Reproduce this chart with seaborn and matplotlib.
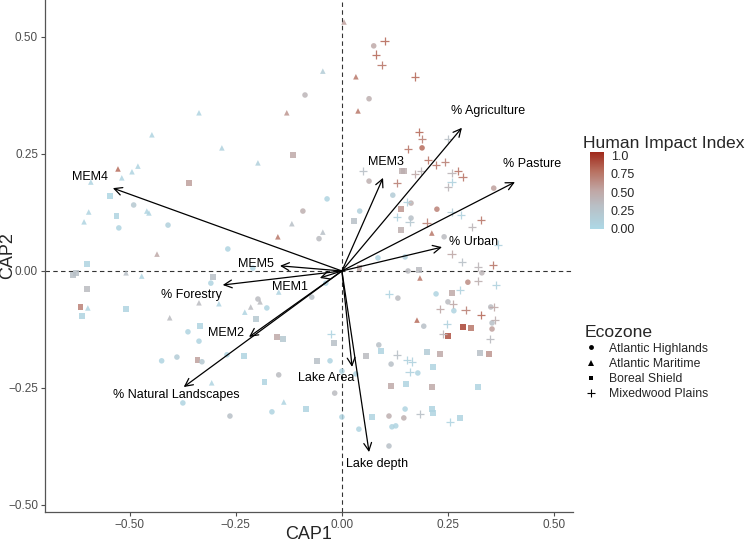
import numpy as np
import pandas as pd
import matplotlib
matplotlib.use("Agg")
import matplotlib.pyplot as plt
import seaborn as sns
from matplotlib.colors import LinearSegmentedColormap, Normalize
from matplotlib.lines import Line2D
from matplotlib.ticker import FuncFormatter

# site scores (CAP1, CAP2), ecozone and human impact index
cap1 = [-0.337, -0.448, -0.283, -0.528, -0.481, -0.495, -0.519, -0.592, -0.361, -0.547,
        -0.491, -0.46, -0.455, -0.597, -0.608, -0.531, -0.526, -0.41, -0.436,
        0.005, -0.045, -0.087, -0.13, -0.198, -0.115, -0.035, -0.092, -0.118, -0.151,
        -0.045, -0.054, -0.269, 0.101, 0.075, 0.08, 0.094, 0.033, 0.064, 0.038, 0.172,
        0.05, 0.064, 0.13, 0.12, 0.042, 0.028, 0.13,
        0.182, 0.189, 0.156, 0.189, 0.25, 0.203, 0.222, 0.243, 0.142, 0.146, 0.172,
        0.186, 0.259, 0.274, 0.285, 0.259, 0.25, 0.358, 0.163, 0.224, 0.139, 0.153,
        0.163, 0.16, 0.259, 0.281, 0.2, 0.139, 0.212, 0.241, 0.307, 0.328, 0.368,
        0.259, 0.149, 0.085, 0.042, 0.283, 0.321, 0.356, 0.33,
        -0.601, -0.634, -0.627, -0.509, -0.472, -0.601, -0.616, -0.599, -0.613, -0.509,
        -0.406, -0.304, -0.309, -0.337, -0.29, -0.335, -0.363, -0.337, -0.425, -0.389,
        -0.34, -0.33, -0.307, -0.375,
        -0.149, -0.071, -0.038, -0.198, -0.193, -0.215, -0.177, -0.229, -0.203, -0.153,
        -0.139, -0.026, -0.019, -0.231, -0.059, -0.028, -0.149, -0.182, -0.017, -0.137,
        -0.165, -0.085, -0.264, 0.0, 0.0, 0.033, 0.111, 0.132, 0.087, 0.057, 0.092,
        0.13, 0.116, 0.116, 0.071, 0.04, 0.111, 0.118, 0.127, 0.111,
        0.156, 0.182, 0.184, 0.297, 0.321, 0.363, 0.222, 0.259, 0.278, 0.25, 0.262,
        0.231, 0.264, 0.292, 0.351, 0.358, 0.328, 0.177, 0.193, 0.248, 0.285, 0.304,
        0.25, 0.238, 0.354, 0.361, 0.354, 0.349, 0.2, 0.231, 0.325, 0.347, 0.153,
        0.165, 0.16, 0.179, 0.215, 0.151, 0.212, 0.321, 0.149, 0.212, 0.215, 0.184,
        0.146, 0.278, 0.255, -0.271, -0.21]
cap2 = [0.338, 0.291, 0.263, 0.218, 0.224, 0.212, 0.199, 0.19, 0.188, 0.16,
        0.141, 0.128, 0.124, 0.126, 0.105, 0.118, 0.092, 0.098, 0.036,
        0.532, 0.427, 0.376, 0.338, 0.231, 0.248, 0.154, 0.128, 0.101, 0.073,
        0.083, 0.069, 0.047, 0.491, 0.481, 0.462, 0.44, 0.415, 0.368, 0.342, 0.415,
        0.214, 0.192, 0.188, 0.162, 0.128, 0.107, 0.115,
        0.297, 0.282, 0.261, 0.263, 0.282, 0.237, 0.226, 0.233, 0.214, 0.214, 0.207,
        0.214, 0.209, 0.214, 0.201, 0.19, 0.179, 0.177, 0.145, 0.132, 0.132, 0.147,
        0.113, 0.105, 0.126, 0.12, 0.103, 0.088, 0.081, 0.073, 0.094, 0.109, 0.056,
        0.036, 0.03, 0.028, 0.006, 0.019, 0.009, 0.013, -0.004,
        0.015, -0.009, -0.004, -0.004, -0.011, -0.038, -0.077, -0.079, -0.096, -0.081,
        -0.1, -0.013, -0.026, -0.068, -0.07, -0.118, -0.13, -0.15, -0.192, -0.184,
        -0.19, -0.194, -0.239, -0.282,
        -0.045, -0.056, -0.026, -0.06, -0.066, -0.077, -0.079, -0.088, -0.103, -0.141,
        -0.145, -0.135, -0.154, -0.182, -0.192, -0.192, -0.222, -0.237, -0.261, -0.28,
        -0.301, -0.295, -0.31, -0.312, -0.214, -0.22, -0.049, -0.058, -0.158, -0.182,
        -0.171, -0.179, -0.199, -0.246, -0.312, -0.338, -0.31, -0.333, -0.331, -0.374,
        0.0, 0.002, -0.015, -0.024, -0.021, -0.03, -0.049, -0.047, -0.041, -0.066,
        -0.071, -0.081, -0.085, -0.083, -0.077, -0.077, -0.094, -0.105, -0.118, -0.113,
        -0.12, -0.122, -0.139, -0.135, -0.111, -0.105, -0.124, -0.145, -0.173, -0.177,
        -0.175, -0.177, -0.19, -0.194, -0.216, -0.218, -0.205, -0.241, -0.248, -0.248,
        -0.295, -0.295, -0.303, -0.306, -0.314, -0.314, -0.323, -0.179, 0.006]
zone = ["AM", "AM", "AM", "AM", "AM", "AM", "AM", "AM", "BS", "BS",
        "AH", "AM", "AM", "AM", "AM", "BS", "AH", "AH", "AM",
        "AM", "AM", "AH", "AM", "AM", "BS", "AH", "AH", "AM", "AM",
        "AM", "AH", "AH", "MP", "AH", "MP", "MP", "AM", "AH", "AM", "MP",
        "MP", "AH", "MP", "AH", "AH", "BS", "MP",
        "MP", "MP", "MP", "AH", "MP", "MP", "MP", "MP", "BS", "BS", "MP",
        "MP", "MP", "MP", "MP", "MP", "MP", "AH", "AH", "AH", "BS", "MP",
        "AH", "MP", "MP", "MP", "MP", "BS", "AM", "AH", "MP", "MP", "MP",
        "MP", "AH", "AH", "BS", "MP", "MP", "MP", "AH",
        "BS", "BS", "BS", "AM", "AM", "BS", "BS", "AM", "BS", "BS",
        "AM", "BS", "AH", "AM", "AM", "BS", "AH", "AH", "AH", "AH",
        "BS", "AH", "AM", "AH",
        "AM", "AH", "AH", "AH", "AM", "AM", "AH", "AM", "BS", "BS",
        "BS", "MP", "BS", "BS", "BS", "AH", "AH", "BS", "AH", "AM",
        "AH", "BS", "AH", "AH", "AH", "AH", "MP", "AH", "AH", "BS", "BS",
        "MP", "AH", "BS", "BS", "AH", "AH", "AH", "AH", "AH",
        "AH", "BS", "AM", "AH", "MP", "MP", "AH", "BS", "MP", "AH", "MP",
        "MP", "AH", "MP", "AH", "MP", "MP", "AM", "AH", "MP", "BS", "BS",
        "BS", "MP", "AH", "MP", "AH", "MP", "BS", "BS", "BS", "BS", "MP",
        "MP", "MP", "AH", "BS", "BS", "BS", "BS", "AH", "BS", "BS", "MP",
        "AH", "BS", "MP", "AH", "AH"]
impact = [0.05, 0.05, 0.08, 0.8, 0.05, 0.05, 0.05, 0.05, 0.55, 0.03,
          0.2, 0.05, 0.05, 0.05, 0.05, 0.05, 0.05, 0.1, 0.5,
          0.55, 0.15, 0.4, 0.6, 0.1, 0.5, 0.05, 0.45, 0.3, 0.75,
          0.3, 0.35, 0.05, 0.8, 0.5, 0.8, 0.75, 0.75, 0.45, 0.75, 0.8,
          0.3, 0.45, 0.7, 0.15, 0.1, 0.3, 0.08,
          0.8, 0.7, 0.75, 0.8, 0.3, 0.75, 0.75, 0.7, 0.45, 0.45, 0.5,
          0.4, 0.4, 0.75, 0.75, 0.08, 0.4, 0.55, 0.45, 0.7, 0.6, 0.08,
          0.3, 0.2, 0.15, 0.08, 0.7, 0.45, 0.75, 0.35, 0.4, 0.75, 0.08,
          0.5, 0.1, 0.05, 0.5, 0.3, 0.4, 0.75, 0.4,
          0.05, 0.3, 0.3, 0.3, 0.05, 0.35, 0.7, 0.05, 0.05, 0.05,
          0.35, 0.3, 0.05, 0.35, 0.05, 0.05, 0.05, 0.05, 0.05, 0.15,
          0.55, 0.2, 0.05, 0.05,
          0.05, 0.3, 0.05, 0.35, 0.35, 0.35, 0.05, 0.05, 0.2, 0.5,
          0.2, 0.05, 0.3, 0.05, 0.3, 0.05, 0.35, 0.05, 0.35, 0.05,
          0.05, 0.05, 0.3, 0.05, 0.05, 0.05, 0.05, 0.35, 0.3, 0.35, 0.05,
          0.3, 0.3, 0.5, 0.05, 0.05, 0.45, 0.05, 0.05, 0.3,
          0.35, 0.35, 0.75, 0.65, 0.45, 0.08, 0.05, 0.5, 0.08, 0.35, 0.5,
          0.5, 0.05, 0.7, 0.35, 0.5, 0.8, 0.8, 0.3, 0.08, 0.95, 0.75,
          0.9, 0.4, 0.3, 0.45, 0.55, 0.35, 0.15, 0.5, 0.3, 0.6, 0.08,
          0.08, 0.08, 0.05, 0.05, 0.05, 0.5, 0.05, 0.05, 0.05, 0.05, 0.3,
          0.45, 0.05, 0.05, 0.05, 0.05]

zone_names = {"AH": "Atlantic Highlands", "AM": "Atlantic Maritime",
              "BS": "Boreal Shield", "MP": "Mixedwood Plains"}

# environmental vectors (arrow tips) and label positions
vec_names = ["% Agriculture", "% Pasture", "% Urban", "MEM3", "MEM4", "MEM5",
             "% Forestry", "MEM1", "MEM2", "% Natural Landscapes", "Lake Area", "Lake depth"]
vec_x = [0.283, 0.408, 0.236, 0.097, -0.54, -0.146, -0.281, -0.052, -0.219, -0.373, 0.024, 0.064]
vec_y = [0.306, 0.19, 0.051, 0.199, 0.177, 0.011, -0.030, -0.015, -0.141, -0.248, -0.205, -0.387]
lab_x = [0.344, 0.448, 0.31, 0.104, -0.594, -0.203, -0.354, -0.123, -0.274, -0.39, -0.036, 0.082]
lab_y = [0.342, 0.229, 0.062, 0.233, 0.20, 0.015, -0.051, -0.034, -0.132, -0.265, -0.229, -0.412]

df = pd.DataFrame({"CAP1": cap1, "CAP2": cap2, "zone": zone, "impact": impact})
df["Ecozone"] = df["zone"].map(zone_names)

sns.set_style("white")
plt.rcParams["font.family"] = ["Liberation Sans", "DejaVu Sans"]

cmap = LinearSegmentedColormap.from_list(
    "hii", [(0, "#ADD8E6"), (0.3, "#B9BFC5"), (0.5, "#C0A6A4"),
            (0.75, "#B87060"), (1.0, "#A0281A")])
norm = Normalize(vmin=0, vmax=1.05)

fig = plt.figure(figsize=(7.48, 5.46), dpi=100)
ax = fig.add_axes([0.0602, 0.0623, 0.7059, 0.9377])

filled = df[df["zone"] != "MP"]
sns.scatterplot(data=filled, x="CAP1", y="CAP2", hue="impact", style="Ecozone",
                markers={"Atlantic Highlands": "o", "Atlantic Maritime": "^",
                         "Boreal Shield": "s"},
                palette=cmap, hue_norm=norm, s=16, linewidth=0, alpha=0.85,
                legend=False, ax=ax, zorder=2)
plus = df[df["zone"] == "MP"]
sns.scatterplot(data=plus, x="CAP1", y="CAP2", hue="impact", marker="+",
                palette=cmap, hue_norm=norm, s=38, linewidth=0.9, alpha=0.9,
                legend=False, ax=ax, zorder=2)

ax.axhline(0, color="#333333", ls=(0, (4, 3)), lw=0.8, zorder=1)
ax.axvline(0, color="#333333", ls=(0, (4, 3)), lw=0.8, zorder=1)

for name, vx, vy, tx, ty in zip(vec_names, vec_x, vec_y, lab_x, lab_y):
    ax.annotate("", xy=(vx, vy), xytext=(0, 0),
                arrowprops=dict(arrowstyle="->", color="black", lw=0.9,
                                mutation_scale=14, shrinkA=0, shrinkB=0), zorder=3)
    ax.text(tx, ty, name, fontsize=9, ha="center", va="center", color="black", zorder=4)

ax.set_xlim(-0.70, 0.545)
ax.set_ylim(-0.515, 0.579)
ax.set_xticks([-0.5, -0.25, 0, 0.25, 0.5])
ax.set_yticks([-0.5, -0.25, 0, 0.25, 0.5])
fmt = FuncFormatter(lambda v, p: f"{v:.2f}".replace("-", "\u2212"))
ax.xaxis.set_major_formatter(fmt)
ax.yaxis.set_major_formatter(fmt)
ax.tick_params(axis="both", labelsize=8.5, colors="#4d4d4d", length=3, width=0.8,
               labelcolor="#4d4d4d", bottom=True, left=True, pad=2)
for side in ["top", "right"]:
    ax.spines[side].set_visible(False)
for side in ["left", "bottom"]:
    ax.spines[side].set_color("#555555")
    ax.spines[side].set_linewidth(0.9)
ax.set_xlabel("CAP1", fontsize=13)
ax.set_ylabel("CAP2", fontsize=13)
ax.xaxis.set_label_coords(0.5, -0.028)
ax.yaxis.set_label_coords(-0.055, 0.5)

# colour legend
cax = fig.add_axes([0.789, 0.581, 0.018, 0.141])
sm = plt.cm.ScalarMappable(cmap=cmap, norm=norm)
cb = fig.colorbar(sm, cax=cax, ticks=[0, 0.25, 0.5, 0.75, 1.0])
cb.ax.set_yticklabels(["0.00", "0.25", "0.50", "0.75", "1.0"])
cb.outline.set_visible(False)
cb.ax.tick_params(labelsize=9, length=3, direction="in", color="white", pad=5)
fig.text(0.779, 0.738, "Human Impact Index", fontsize=12.6, va="center", ha="left")

# shape legend
handles = [Line2D([], [], marker=m, ls="", color="black", markersize=ms, mew=mw)
           for m, ms, mw in [("o", 3.5, 0), ("^", 4, 0), ("s", 3.5, 0), ("+", 6, 0.8)]]
fig.legend(handles, [zone_names[k] for k in ["AH", "AM", "BS", "MP"]],
           title="Ecozone", loc="upper left", bbox_to_anchor=(0.770, 0.421),
           frameon=False, fontsize=8.8, title_fontsize=12.6, alignment="left",
           handlelength=1.0, handletextpad=1.0, labelspacing=0.25, borderpad=0.2)

fig.savefig("out.png", dpi=100)
